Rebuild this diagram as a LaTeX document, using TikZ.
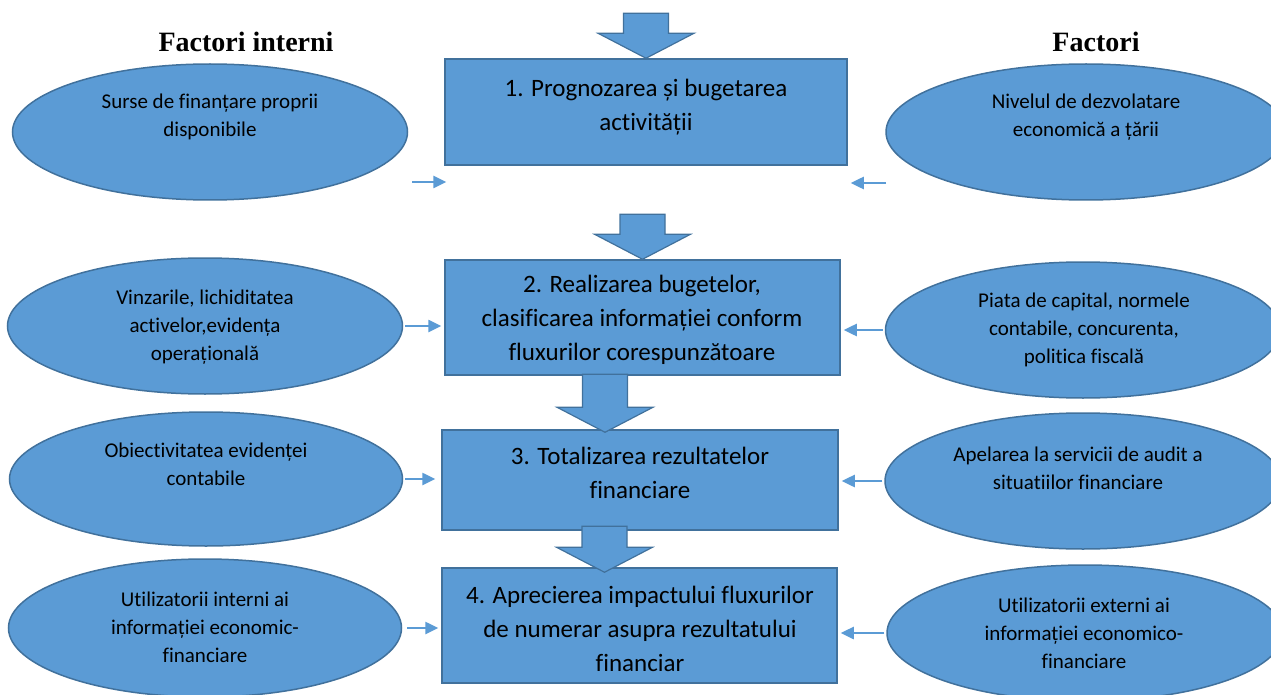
\documentclass[tikz,border=0pt]{standalone}
\usepackage{fontspec}
\setmainfont{Carlito}[Ligatures=NoCommon]
\newfontfamily\headfont{Liberation Serif}
\usetikzlibrary{shapes.geometric,arrows.meta,positioning}

\definecolor{stageblue}{HTML}{5B9BD5}
\definecolor{stageedge}{HTML}{41719C}

\tikzset{
  factor/.style={ellipse, draw=stageedge, fill=stageblue, line width=1.5pt,
    minimum width=395pt, minimum height=136pt, inner sep=0pt},
  factortext/.style={align=center, inner sep=0pt,
    font=\fontsize{21}{28}\selectfont},
  stage/.style={rectangle, draw=stageedge, fill=stageblue, line width=1.5pt,
    inner sep=0pt},
  stagetext/.style={align=center, inner sep=0pt,
    font=\fontsize{25}{34}\selectfont},
  heading/.style={inner sep=0pt, font=\headfont\bfseries\fontsize{28}{34}\selectfont},
  feed/.style={draw=stageblue, line width=2.5pt,
    -{Triangle[length=13pt,width=12pt]}, shorten <=2pt, shorten >=3pt},
  pics/flow/.style={code={
    \draw[draw=stageedge, fill=stageblue, line width=1.2pt]
      (0,0) -- (-48,-25) -- (-22.5,-25) -- (-22.5,-#1)
      -- (22.5,-#1) -- (22.5,-25) -- (48,-25) -- cycle;}}
}

\begin{document}
\begin{tikzpicture}[x=1pt, y=-1pt]
  \useasboundingbox (0,0) rectangle (1271,695);

  % Headings
  \node[heading] (hint) at (246,42) {Factori interni};
  \node[heading] (hext) at (1096,42) {Factori};

  % Stages:
  %   the four steps of the flow, top to bottom
  \node[stage, minimum width=402pt, minimum height=106pt] (b1) at (646,112) {};
  \node[stage, minimum width=395pt, minimum height=115pt] (b2) at (642.5,317.5) {};
  \node[stage, minimum width=396pt, minimum height=100pt] (b3) at (640,480) {};
  \node[stage, minimum width=395pt, minimum height=115pt] (b4) at (639.5,625.5) {};

  \node[stagetext] (t1) at (646,107) {1. Prognozarea și bugetarea\\activității};
  \node[stagetext] (t2) at (642,320) {2. Realizarea bugetelor,\\clasificarea informației conform\\fluxurilor corespunzătoare};
  \node[stagetext] (t3) at (640,473) {3. Totalizarea rezultatelor\\financiare};
  \node[stagetext] (t4) at (640,629) {4. Aprecierea impactului fluxurilor\\de numerar asupra rezultatului\\financiar};

  % Internal factors (left)
  \node[factor] (l1) at (210,132) {};
  \node[factor] (l2) at (205,326) {};
  \node[factor, minimum width=393pt, minimum height=134pt] (l3) at (206,479) {};
  \node[factor, minimum width=393pt, minimum height=138pt] (l4) at (205,628) {};

  \node[factortext] (lt1) at (210,117) {Surse de finanțare proprii\\disponibile};
  \node[factortext] (lt2) at (205,327) {Vinzarile, lichiditatea\\activelor,evidența\\operațională};
  \node[factortext] (lt3) at (206,464) {Obiectivitatea evidenței\\contabile};
  \node[factortext] (lt4) at (205,627) {Utilizatorii interni ai\\informației economic-\\financiare};

  % External factors (right)
  \node[factor, minimum width=400pt] (r1) at (1086,132) {};
  \node[factor] (r2) at (1083,330) {};
  \node[factor, minimum width=396pt] (r3) at (1083,481) {};
  \node[factor, minimum width=396pt] (r4) at (1085,633) {};

  \node[factortext] (rt1) at (1086,117) {Nivelul de dezvolatare\\economică a țării};
  \node[factortext] (rt2) at (1084,330) {Piata de capital, normele\\contabile, concurenta,\\politica fiscală};
  \node[factortext] (rt3) at (1078,468) {Apelarea la servicii de audit a\\situatiilor financiare};
  \node[factortext] (rt4) at (1084,633) {Utilizatorii externi ai\\informației economico-\\financiare};

  % Flow between the stages
  \pic (f1) at (b1.north) {flow=45};
  \pic (f2) at (b2.north) {flow=45};
  \pic (f3) at ([xshift=-35pt,yshift=-3pt]b3.north) {flow=58};
  \pic (f4) at ([xshift=-35pt,yshift=-5pt]b4.north) {flow=46};

  % Influence of the factors
  \coordinate (in1) at (410,182);
  \coordinate (ex1) at (888,183);
  \draw[feed, shorten >=-2pt] (in1) -- (in1 -| b1.west);
  \draw[feed] (ex1) -- (ex1 -| b1.east);
  \draw[feed] (l2.east) -- (l2.east -| b2.west);
  \draw[feed] (r2.west) -- (r2.west -| b2.east);
  \draw[feed, shorten >=6pt] (l3.east) -- (l3.east -| b3.west);
  \draw[feed] (r3.west) -- (r3.west -| b3.east);
  \draw[feed, shorten <=5pt] (l4.east) -- (l4.east -| b4.west);
  \draw[feed] (r4.west) -- (r4.west -| b4.east);
\end{tikzpicture}
\end{document}
